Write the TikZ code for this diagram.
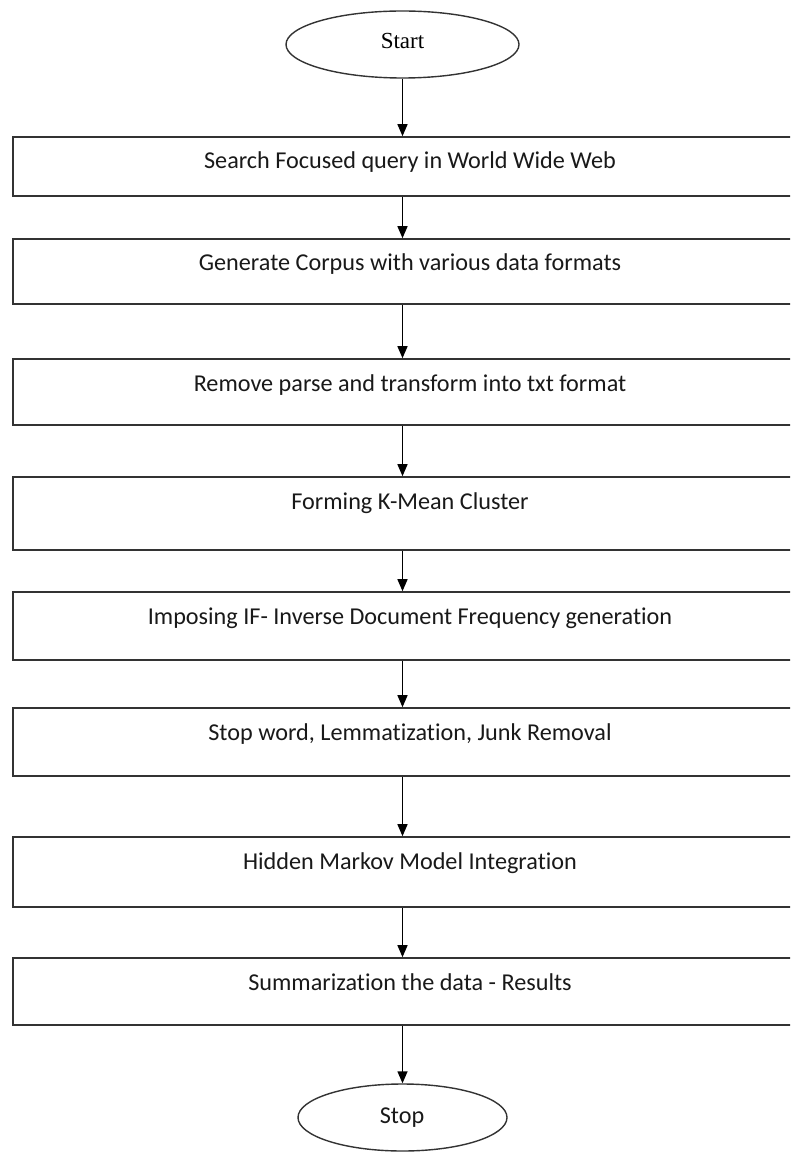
\documentclass[tikz,border=0pt]{standalone}
\usepackage{fontspec}
\setmainfont{Carlito}[Ligatures=NoCommon,RawFeature={-liga}]
\newfontfamily\startfont{Liberation Serif}
\usetikzlibrary{shapes.geometric,arrows.meta,calc}
\begin{document}
\begin{tikzpicture}[x=1pt,y=-1pt,
  stepbox/.style={draw=black!80,line width=1.6pt,rectangle,minimum width=794pt,inner sep=0pt},
  oval/.style={draw=black!80,line width=1.4pt,ellipse,inner sep=0pt},
  txt/.style={font=\fontsize{24.2}{28}\selectfont,anchor=base,inner sep=0pt,text=black!90},
  arr/.style={draw=black,line width=1.4pt,-{Triangle[length=12pt,width=10pt]}}]
\useasboundingbox (0,0) rectangle (790,1155);
\clip (0,0) rectangle (790,1155);
\fill[white] (0,0) rectangle (790,1155);
\coordinate (ax) at (402.5,0);
% terminals
\node[oval,minimum width=233pt,minimum height=67pt] (start) at (402.5,44.5) {};
\node[font=\startfont\fontsize{23}{26}\selectfont,inner sep=0pt] (starttxt) at (402.5,41) {Start};
\node[oval,minimum width=209pt,minimum height=67pt] (stop) at (402.5,1117.5) {};
\node[txt] (stoptxt) at (402,1123) {Stop};
% boxes
\node[stepbox,minimum height=59pt] (b1) at (410,166.5) {};
\node[stepbox,minimum height=65pt] (b2) at (410,271.5) {};
\node[stepbox,minimum height=66pt] (b3) at (410,392) {};
\node[stepbox,minimum height=73pt] (b4) at (410,513.5) {};
\node[stepbox,minimum height=68pt] (b5) at (410,626) {};
\node[stepbox,minimum height=68pt] (b6) at (410,742) {};
\node[stepbox,minimum height=70pt] (b7) at (410,872) {};
\node[stepbox,minimum height=67pt] (b8) at (410,991.5) {};
% texts
\node[txt] (t1) at (410,169) {Search Focused query in World Wide Web};
\node[txt] (t2) at (410,271) {Generate Corpus with various data formats};
\node[txt] (t3) at (410,391) {Remove parse and transform into txt format};
\node[txt] (t4) at (410,509) {Forming K-Mean Cluster};
\node[txt] (t5) at (410,624) {Imposing IF- Inverse Document Frequency generation};
\node[txt] (t6) at (410,740) {Stop word, Lemmatization, Junk Removal};
\node[txt] (t7) at (410,869) {Hidden Markov Model Integration};
\node[txt] (t8) at (410,990) {Summarization the data - Results};
% arrows
\draw[arr] (start.south) -- (start.south |- b1.north);
\draw[arr] (b1.south -| ax) -- (b2.north -| ax);
\draw[arr] (b2.south -| ax) -- (b3.north -| ax);
\draw[arr] (b3.south -| ax) -- (b4.north -| ax);
\draw[arr] (b4.south -| ax) -- (b5.north -| ax);
\draw[arr] (b5.south -| ax) -- (b6.north -| ax);
\draw[arr] (b6.south -| ax) -- (b7.north -| ax);
\draw[arr] (b7.south -| ax) -- (b8.north -| ax);
\draw[arr] (b8.south -| ax) -- (stop.north);
\end{tikzpicture}
\end{document}
